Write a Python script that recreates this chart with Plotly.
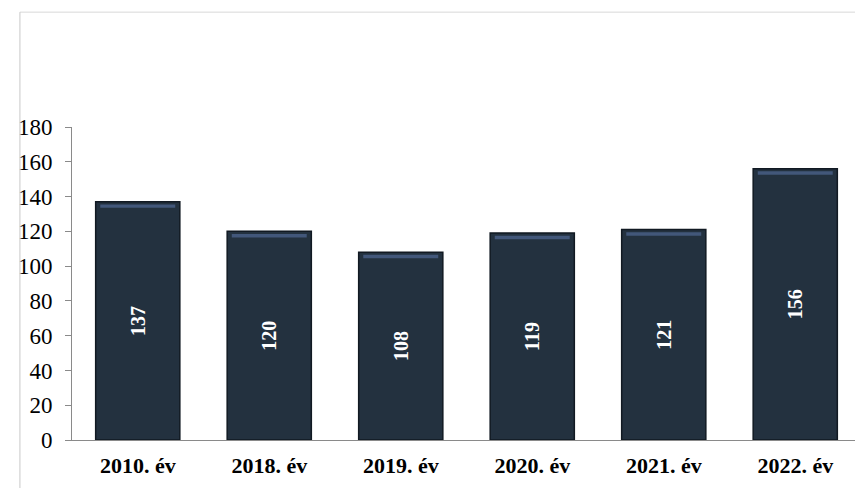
import plotly.graph_objects as go

years = ["2010. év", "2018. év", "2019. év", "2020. év", "2021. év", "2022. év"]
values = [137, 120, 108, 119, 121, 156]
y_ticks = [0, 20, 40, 60, 80, 100, 120, 140, 160, 180]

serif = "Liberation Serif, Times New Roman, serif"

fig = go.Figure()

fig.add_trace(go.Bar(
    x=years, y=values,
    width=0.64,
    marker=dict(color="#23313f", line=dict(color="#111922", width=1.5)),
    text=[str(v) for v in values],
    textposition="inside", insidetextanchor="middle", textangle=-90,
    textfont=dict(family=serif, size=20, color="white", weight="bold"),
    hoverinfo="skip",
))

# lighter bevel strip on the bar tops
fig.add_trace(go.Bar(
    x=years, y=[2] * len(values), base=[v - 3.5 for v in values],
    width=0.57,
    marker=dict(color="#42577a", line=dict(width=0)),
    hoverinfo="skip",
))

fig.update_layout(
    width=863, height=488,
    margin=dict(l=62, r=10, t=119, b=56),
    paper_bgcolor="white", plot_bgcolor="white",
    barmode="overlay", showlegend=False,
    xaxis=dict(showgrid=False, zeroline=False, showline=True, linecolor="#8a8a8a", linewidth=1,
               ticks="", ticklabelstandoff=6,
               tickfont=dict(family=serif, size=22, color="black", weight="bold")),
    yaxis=dict(range=[0, 180], tickvals=y_ticks, showgrid=False, zeroline=False,
               showline=True, linecolor="#8a8a8a", linewidth=1,
               ticks="outside", ticklen=6, tickcolor="#8a8a8a", ticklabelstandoff=8,
               tickfont=dict(family=serif, size=23, color="black")),
    shapes=[
        dict(type="line", xref="paper", yref="paper", x0=-0.066, x1=1.02, y0=1.367, y1=1.367,
             line=dict(color="#d8d8d8", width=1)),
        dict(type="line", xref="paper", yref="paper", x0=-0.066, x1=-0.066, y0=-0.18, y1=1.367,
             line=dict(color="#c8c8c8", width=1)),
    ],
)

fig.write_html("out.html")
